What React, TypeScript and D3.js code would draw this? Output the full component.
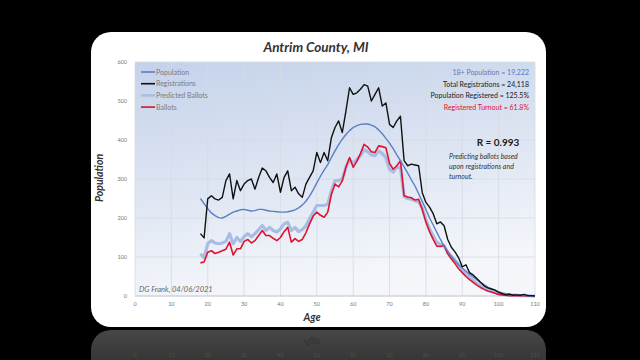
import React from 'react';
import * as d3 from 'd3';

const AGE_START = 18;
const population = [
  250, 237, 224, 213, 206, 201, 200, 204, 210, 215,
  218, 221, 222, 220, 218, 219, 222, 222, 220, 218,
  217, 216, 215, 215, 216, 218, 221, 226, 233, 243,
  256, 272, 290, 307, 323, 337, 355, 372, 388, 402,
  414, 424, 432, 437, 440, 441, 441, 438, 434, 426,
  416, 404, 392, 378, 362, 347, 331, 315, 298, 282,
  262, 242, 222, 200, 182, 163, 145, 128, 115, 102,
  90, 80, 72, 64, 56, 49, 42, 35, 29, 23,
  19, 15, 11, 8, 6, 4, 3, 2, 1, 1,
  0, 0, 0,
];
const registrations = [
  160, 149, 249, 257, 249, 246, 253, 296, 313, 249,
  296, 270, 287, 296, 300, 274, 304, 328, 321, 304,
  291, 313, 266, 304, 321, 270, 279, 262, 253, 287,
  304, 321, 368, 342, 368, 347, 406, 432, 449, 419,
  474, 534, 517, 521, 530, 542, 538, 500, 517, 534,
  487, 495, 440, 432, 449, 461, 347, 334, 338, 336,
  334, 265, 240, 228, 211, 185, 190, 180, 145, 125,
  113, 98, 75, 80, 60, 54, 45, 35, 26, 21,
  18, 15, 9, 6, 3, 5, 2, 3, 2, 4,
  1, 1, 0,
];
const predictedBallots = [
  108, 98, 134, 142, 136, 134, 136, 140, 160, 134,
  150, 140, 152, 160, 152, 160, 170, 181, 168, 176,
  168, 164, 172, 185, 189, 168, 176, 165, 170, 180,
  198, 215, 232, 232, 232, 235, 270, 296, 296, 300,
  330, 350, 340, 350, 360, 375, 370, 362, 360, 372,
  365, 355, 325, 318, 330, 330, 255, 250, 248, 244,
  242, 225, 195, 172, 155, 138, 132, 128, 112, 102,
  92, 80, 68, 58, 48, 40, 32, 26, 20, 15,
  12, 9, 6, 4, 3, 2, 2, 2, 1, 1,
  1, 0, 0,
];
const ballots = [
  85, 87, 112, 116, 109, 112, 116, 120, 138, 105,
  121, 121, 140, 145, 136, 142, 155, 168, 155, 155,
  148, 142, 150, 165, 176, 138, 147, 140, 145, 162,
  185, 205, 215, 207, 202, 215, 260, 287, 280, 295,
  330, 355, 330, 345, 365, 389, 382, 370, 368, 385,
  383, 380, 340, 325, 334, 347, 257, 254, 252, 246,
  248, 222, 190, 165, 145, 128, 127, 130, 108, 95,
  83, 70, 60, 50, 42, 35, 28, 22, 17, 13,
  10, 7, 4, 3, 2, 1, 1, 1, 1, 1,
  0, 0, 0,
];
const xTicks = [0, 10, 20, 30, 40, 50, 60, 70, 80, 90, 100, 110];
const yTicks = [0, 100, 200, 300, 400, 500, 600];
const legendItems = ['Population', 'Registrations', 'Predicted Ballots', 'Ballots'];
const legendColors = ['#5b7fc6', '#111111', '#a9bce2', '#e0122f'];
const statLines = [
  '18+ Population = 19,222',
  'Total Registrations = 24,118',
  'Population Registered = 125.5%',
  'Registered Turnout = 61.8%',
];
const statColors = ['#5f78bd', '#1a1a1a', '#1a1a1a', '#e0122f'];
const noteLines = ['Predicting ballots based', 'upon registrations and', 'turnout.'];

const FONT = 'Lato, "Open Sans", sans-serif';

export default function App() {
  const x = d3.scaleLinear().domain([0, 110]).range([135, 535]);
  const y = d3.scaleLinear().domain([0, 600]).range([296, 62]);
  const line = d3
    .line<number>()
    .x((_, i) => x(AGE_START + i))
    .y((d) => y(d));

  const xLabels = xTicks.map((t) => (
    <text key={t} x={x(t)} y={306} fontSize={5.5} fill="#777" textAnchor="middle">
      {t}
    </text>
  ));

  return (
    <svg
      width={640}
      height={360}
      style={{ position: 'absolute', left: 0, top: 0, display: 'block' }}
      fontFamily={FONT}
    >
      <defs>
        <linearGradient id="plotBg" x1="0" y1="0" x2="0.25" y2="1">
          <stop offset="0" stopColor="#c4d2ea" />
          <stop offset="1" stopColor="#f4f6fa" />
        </linearGradient>
        <linearGradient id="refl" x1="0" y1="0" x2="0" y2="1">
          <stop offset="0" stopColor="#474747" />
          <stop offset="1" stopColor="#262626" />
        </linearGradient>
        <clipPath id="reflClip">
          <rect x={0} y={330} width={640} height={30} />
        </clipPath>
      </defs>
      <rect x={0} y={0} width={640} height={360} fill="#000" />
      {/* reflection */}
      <g clipPath="url(#reflClip)">
        <rect x={91} y={330} width={455} height={60} rx={20} fill="url(#refl)" />
        <g transform="translate(0,659) scale(1,-1)" opacity={0.35}>
          {xLabels}
          <text x={312} y={320} fontSize={10} fontStyle="italic" fontWeight="bold" fill="#222" textAnchor="middle">
            Age
          </text>
        </g>
      </g>
      {/* card */}
      <rect x={91} y={32} width={455} height={295} rx={20} fill="#fff" />
      <text
        x={316}
        y={52}
        fontSize={13.5}
        fontWeight="bold"
        fontStyle="italic"
        fill="#333"
        textAnchor="middle"
      >
        Antrim County, MI
      </text>
      {/* plot area */}
      <rect x={135} y={62} width={400} height={234} fill="url(#plotBg)" />
      {xTicks.map((t) => (
        <line key={'gx' + t} x1={x(t)} x2={x(t)} y1={62} y2={296} stroke="#d5dae2" strokeWidth={0.8} />
      ))}
      {yTicks.map((t) => (
        <line key={'gy' + t} x1={135} x2={535} y1={y(t)} y2={y(t)} stroke="#d5dae2" strokeWidth={0.8} />
      ))}
      <line x1={135} x2={535} y1={296} y2={296} stroke="#c9ced6" strokeWidth={1} />
      {yTicks.map((t) => (
        <text key={'yl' + t} x={127} y={y(t) + 2} fontSize={5.5} fill="#777" textAnchor="end">
          {t}
        </text>
      ))}
      {xLabels}
      <text x={312} y={321} fontSize={10.5} fontWeight="bold" fontStyle="italic" fill="#333" textAnchor="middle">
        Age
      </text>
      <text
        transform="translate(103,178) rotate(-90)"
        fontSize={10.5}
        fontWeight="bold"
        fontStyle="italic"
        fill="#333"
        textAnchor="middle"
      >
        Population
      </text>
      {/* series */}
      <path d={line(predictedBallots) || ''} fill="none" stroke="#a9bce2" strokeWidth={3.2} strokeLinejoin="round" />
      <path d={line(ballots) || ''} fill="none" stroke="#e0122f" strokeWidth={1.6} strokeLinejoin="round" />
      <path d={line(population) || ''} fill="none" stroke="#5b7fc6" strokeWidth={1.4} strokeLinejoin="round" />
      <path d={line(registrations) || ''} fill="none" stroke="#111" strokeWidth={1.4} strokeLinejoin="round" />
      {/* legend */}
      {legendItems.map((name, i) => (
        <g key={name}>
          <line
            x1={141}
            x2={155}
            y1={72 + i * 11.7}
            y2={72 + i * 11.7}
            stroke={legendColors[i]}
            strokeWidth={i === 2 ? 2.5 : 1.6}
          />
          <text x={156} y={74.5 + i * 11.7} fontSize={7} fill="#7a7a7a">
            {name}
          </text>
        </g>
      ))}
      {/* stats */}
      {statLines.map((s, i) => (
        <text key={s} x={529} y={75 + i * 11.6} fontSize={7} fill={statColors[i]} textAnchor="end">
          {s}
        </text>
      ))}
      <text x={498} y={146} fontSize={10} fontWeight="bold" fill="#1a1a1a" textAnchor="middle">
        R = 0.993
      </text>
      {noteLines.map((s, i) => (
        <text key={s} x={449} y={159 + i * 10} fontSize={7} fontStyle="italic" fill="#333">
          {s}
        </text>
      ))}
      <text x={139} y={291.5} fontSize={7.5} fontStyle="italic" fill="#666">
        DG Frank, 04/06/2021
      </text>
    </svg>
  );
}
